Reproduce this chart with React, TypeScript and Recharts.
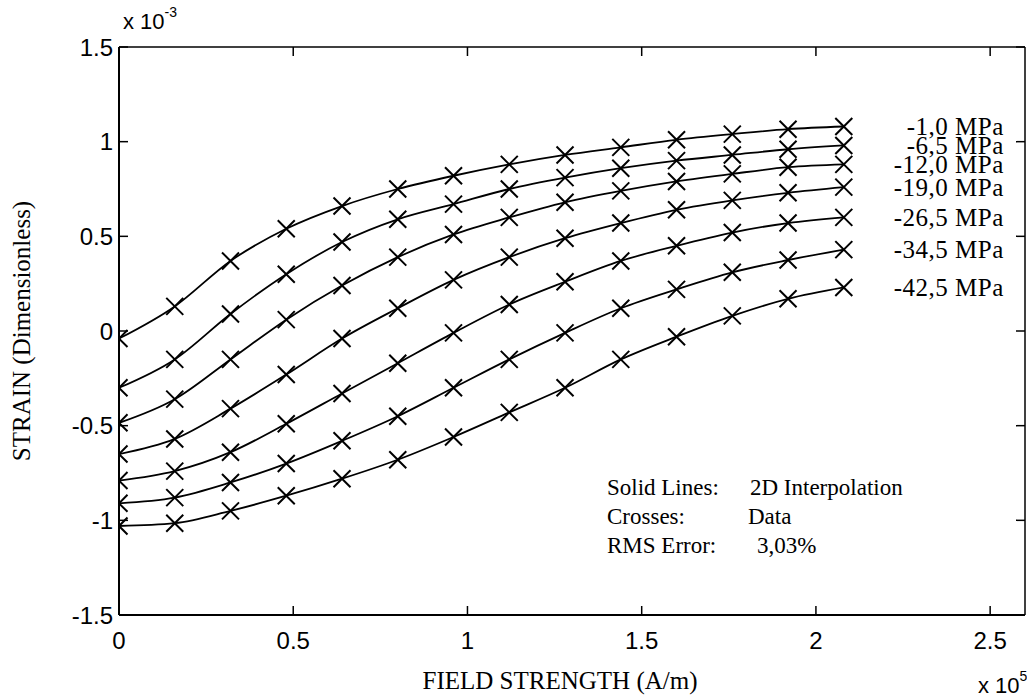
import React from 'react';
import { LineChart, Line, XAxis, YAxis, LabelList } from 'recharts';

// field strength (x 10^5 A/m)
const fieldStrength = [0, 0.16, 0.32, 0.48, 0.64, 0.8, 0.96, 1.12, 1.28, 1.44, 1.6, 1.76, 1.92, 2.08];

// strain (x 10^-3) per prestress
const strain1 = [-0.04, 0.13, 0.37, 0.54, 0.66, 0.75, 0.82, 0.88, 0.93, 0.97, 1.01, 1.04, 1.066, 1.08];
const strain2 = [-0.3, -0.15, 0.09, 0.3, 0.47, 0.59, 0.67, 0.75, 0.81, 0.86, 0.9, 0.93, 0.96, 0.98];
const strain3 = [-0.485, -0.36, -0.15, 0.06, 0.24, 0.39, 0.51, 0.6, 0.68, 0.74, 0.79, 0.83, 0.865, 0.88];
const strain4 = [-0.65, -0.57, -0.41, -0.23, -0.04, 0.12, 0.27, 0.39, 0.49, 0.57, 0.64, 0.69, 0.73, 0.76];
const strain5 = [-0.79, -0.74, -0.64, -0.49, -0.33, -0.17, -0.01, 0.14, 0.26, 0.37, 0.45, 0.52, 0.57, 0.6];
const strain6 = [-0.91, -0.88, -0.8, -0.7, -0.58, -0.45, -0.3, -0.15, -0.01, 0.12, 0.22, 0.31, 0.375, 0.43];
const strain7 = [-1.03, -1.015, -0.95, -0.87, -0.78, -0.68, -0.56, -0.43, -0.3, -0.15, -0.03, 0.08, 0.17, 0.23];

const pressureLabels = ['-1,0 MPa', '-6,5 MPa', '-12,0 MPa', '-19,0 MPa', '-26,5 MPa', '-34,5 MPa', '-42,5 MPa'];
const allStrains = [strain1, strain2, strain3, strain4, strain5, strain6, strain7];

const xTicks = [0, 0.5, 1, 1.5, 2, 2.5];
const yTicks = [-1.5, -1, -0.5, 0, 0.5, 1, 1.5];

const data = fieldStrength.map((x, i) => {
  const row: Record<string, number> = { x };
  allStrains.forEach((s, k) => {
    row['s' + k] = s[i];
  });
  return row;
});

const sans = '"Liberation Sans", Arial, sans-serif';
const serif = '"Liberation Serif", "Times New Roman", serif';
const TICK = 9;

const BottomTick = (props: any) => {
  const { x, y, payload } = props;
  return (
    <g>
      <line x1={x} x2={x} y1={y} y2={y - TICK} stroke="#000" strokeWidth={1.5} />
      <text x={x} y={y + 25} textAnchor="middle" dominantBaseline="central" fontFamily={sans} fontSize={24} fill="#000">
        {String(payload.value)}
      </text>
    </g>
  );
};

const LeftTick = (props: any) => {
  const { x, y, payload } = props;
  return (
    <g>
      <line x1={x} x2={x + TICK} y1={y} y2={y} stroke="#000" strokeWidth={1.5} />
      <text x={x - 6} y={y} textAnchor="end" dominantBaseline="central" fontFamily={sans} fontSize={24} fill="#000">
        {String(payload.value)}
      </text>
    </g>
  );
};

const TopTick = (props: any) => {
  const { x, y } = props;
  return <line x1={x} x2={x} y1={y} y2={y + TICK} stroke="#000" strokeWidth={1.5} />;
};

const RightTick = (props: any) => {
  const { x, y } = props;
  return <line x1={x} x2={x - TICK} y1={y} y2={y} stroke="#000" strokeWidth={1.5} />;
};

const CrossDot = (props: any) => {
  const { cx, cy, index, dataKey } = props;
  const r = 8.5;
  if (cx == null || cy == null) return <g key={`${dataKey}-${index}`} />;
  return (
    <path
      key={`${dataKey}-${index}`}
      d={`M${cx - r},${cy - r}L${cx + r},${cy + r}M${cx - r},${cy + r}L${cx + r},${cy - r}`}
      stroke="#000"
      strokeWidth={2}
      fill="none"
    />
  );
};

const lastIndex = fieldStrength.length - 1;

const pressureLabel = (text: string) => (props: any) => {
  const { x, y, index } = props;
  if (index !== lastIndex) return null;
  return (
    <text
      x={x + 160}
      y={y}
      textAnchor="end"
      dominantBaseline="central"
      fontFamily={serif}
      fontSize={25}
      letterSpacing={0.5}
      fill="#000"
    >
      {text}
    </text>
  );
};

const App = () => {
  return (
    <div style={{ position: 'absolute', left: 0, top: 0, width: 1027, height: 698, background: '#fff' }}>
      <LineChart width={1027} height={698} data={data} margin={{ top: 0, right: 0, bottom: 0, left: 0 }}>
        <XAxis
          xAxisId="b"
          type="number"
          dataKey="x"
          domain={[0, 2.6]}
          ticks={xTicks}
          allowDataOverflow
          height={83}
          tickSize={0}
          tickMargin={0}
          tick={<BottomTick />}
          axisLine={{ stroke: '#000', strokeWidth: 2 }}
        />
        <XAxis
          xAxisId="t"
          orientation="top"
          type="number"
          dataKey="x"
          domain={[0, 2.6]}
          ticks={xTicks}
          allowDataOverflow
          height={47}
          tickSize={0}
          tickMargin={0}
          tick={<TopTick />}
          axisLine={{ stroke: '#000', strokeWidth: 1.5 }}
        />
        <YAxis
          yAxisId="l"
          type="number"
          domain={[-1.5, 1.5]}
          ticks={yTicks}
          allowDataOverflow
          width={119}
          tickSize={0}
          tickMargin={0}
          tick={<LeftTick />}
          axisLine={{ stroke: '#000', strokeWidth: 2 }}
        />
        <YAxis
          yAxisId="r"
          orientation="right"
          type="number"
          domain={[-1.5, 1.5]}
          ticks={yTicks}
          allowDataOverflow
          width={2}
          tickSize={0}
          tickMargin={0}
          tick={<RightTick />}
          axisLine={{ stroke: '#000', strokeWidth: 1.5 }}
        />
        {pressureLabels.map((label, k) => (
          <Line
            key={label}
            xAxisId="b"
            yAxisId="l"
            type="monotone"
            dataKey={'s' + k}
            stroke="#000"
            strokeWidth={1.8}
            dot={<CrossDot />}
            activeDot={false}
            isAnimationActive={false}
          >
            <LabelList dataKey={'s' + k} content={pressureLabel(label)} />
          </Line>
        ))}
      </LineChart>

      <div style={{ position: 'absolute', left: 123, top: 8, fontFamily: sans, fontSize: 22, whiteSpace: 'pre' }}>
        x 10<sup style={{ fontSize: 14, position: 'relative', top: -4 }}>-3</sup>
      </div>
      <div style={{ position: 'absolute', left: 978, top: 672, fontFamily: sans, fontSize: 22, whiteSpace: 'pre' }}>
        x 10<sup style={{ fontSize: 14, position: 'relative', top: -4 }}>5</sup>
      </div>
      <div
        style={{
          position: 'absolute',
          left: 560,
          top: 681,
          transform: 'translate(-50%, -50%)',
          fontFamily: serif,
          fontSize: 25,
          whiteSpace: 'pre',
        }}
      >
        FIELD STRENGTH (A/m)
      </div>
      <div
        style={{
          position: 'absolute',
          left: 22,
          top: 331,
          transform: 'translate(-50%, -50%) rotate(-90deg)',
          fontFamily: serif,
          fontSize: 25,
          whiteSpace: 'pre',
        }}
      >
        STRAIN (Dimensionless)
      </div>
      <div style={{ position: 'absolute', left: 607, top: 473, fontFamily: serif, fontSize: 23, lineHeight: '29px', whiteSpace: 'pre' }}>
        <div style={{ position: 'relative' }}>
          Solid Lines:<span style={{ position: 'absolute', left: 143 }}>2D Interpolation</span>
        </div>
        <div style={{ position: 'relative' }}>
          Crosses:<span style={{ position: 'absolute', left: 141 }}>Data</span>
        </div>
        <div style={{ position: 'relative' }}>
          RMS Error:<span style={{ position: 'absolute', left: 150 }}>3,03%</span>
        </div>
      </div>
    </div>
  );
};

export default App;
